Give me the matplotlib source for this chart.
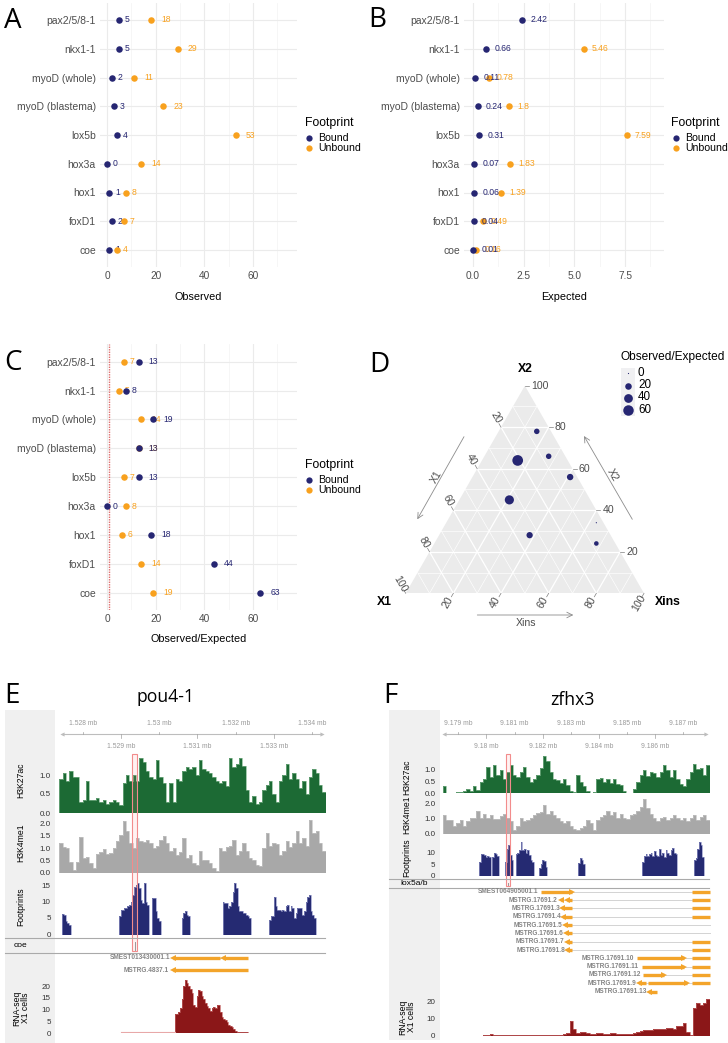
import numpy as np
import matplotlib
matplotlib.use('Agg')
import matplotlib.pyplot as plt
from matplotlib.patches import Rectangle, Polygon
from matplotlib.transforms import blended_transform_factory

# ---------------- data: panels A-C ----------------
genes = ['pax2/5/8-1', 'nkx1-1', 'myoD (whole)', 'myoD (blastema)', 'lox5b',
         'hox3a', 'hox1', 'foxD1', 'coe']
observed_bound = [5, 5, 2, 3, 4, 0, 1, 2, 1]
observed_unbound = [18, 29, 11, 23, 53, 14, 8, 7, 4]
expected_bound = [2.42, 0.66, 0.11, 0.24, 0.31, 0.07, 0.06, 0.04, 0.01]
expected_unbound = [np.nan, 5.46, 0.78, 1.8, 7.59, 1.83, 1.39, 0.49, 0.16]
ratio_bound = [13, 8, 19, 13, 13, 0, 18, 44, 63]
ratio_unbound = [7, 5, 14, 13, 7, 8, 6, 14, 19]

# ---------------- data: panel D (ternary) ----------------
tern_genes = ['pax2/5/8-1', 'lox5b', 'coe', 'myoD (whole)', 'foxD1', 'hox1', 'hox3a', 'nkx1-1']
tern_X1 = [6, 7, 21, 3, 34, 34, 3, 8]
tern_X2 = [78, 66, 64, 56, 45, 28, 34, 24]
tern_Xins = [16, 27, 15, 41, 21, 38, 63, 68]
tern_ratio = [13, 13, 63, 19, 44, 18, 0, 8]
tern_legend = [0, 20, 40, 60]

# ---------------- data: panel E (pou4-1) ----------------
E_start, E_end = 1527389, 1534350
E_bin = 87.0
E_h3k27ac = [0.9, 1.05, 0.85, 1.1, 0.95, 0.95, 0.3, 0.35, 0.85, 0.35,
             0.35, 0.4, 0.3, 0.35, 0.25, 0.3, 0.35, 0.3, 0.2, 0.8,
             1.0, 0.85, 1.0, 0.85, 1.45, 1.35, 1.1, 0.95, 0.9, 1.4,
             0.95, 0.8, 0.3, 0.8, 0.3, 0.9, 0.85, 1.1, 1.2, 1.15,
             1.2, 1.0, 1.4, 1.15, 1.1, 1.05, 0.95, 0.85, 0.8, 0.85,
             0.7, 1.45, 1.2, 1.3, 1.45, 1.25, 0.6, 0.3, 0.45, 0.25,
             0.3, 0.6, 0.75, 0.85, 0.5, 0.3, 0.85, 1.0, 1.3, 0.9,
             1.05, 0.9, 0.65, 0.85, 0.5, 0.95, 1.15, 1.05, 0.75, 0.55]
E_h3k4me1 = [1.2, 1.05, 1.0, 0.45, 0.1, 0.45, 1.45, 0.6, 0.65, 0.4,
             0.2, 0.75, 0.85, 0.95, 0.75, 0.8, 1.0, 1.3, 1.55, 2.1,
             1.7, 1.2, 1.0, 1.4, 1.3, 1.25, 1.35, 1.2, 1.0, 1.1,
             1.35, 1.5, 1.2, 0.9, 1.0, 0.7, 0.85, 1.4, 0.6, 0.7,
             0.4, 0.3, 0.9, 0.5, 0.5, 0.4, 0.2, 0.05, 1.0, 0.9,
             1.05, 1.1, 1.35, 0.7, 0.9, 1.2, 0.9, 0.6, 0.5, 0.3,
             0.25, 1.0, 1.6, 1.1, 1.2, 1.15, 0.7, 0.9, 1.3, 1.05,
             1.2, 1.7, 1.2, 1.4, 1.1, 2.15, 1.6, 1.7, 1.2, 0.9]
E_fp_bin = 43.5
E_fp_starts = [1527469, 1528949, 1529820, 1530587, 1531658, 1532869]
E_fp_blocks = [
    [6.3, 6.0, 4.0, 3.5, 3.0],
    [5.5, 7.5, 7.5, 8.0, 8.0, 8.5, 9.0, 10.0, 12.0, 14.5, 15.0, 15.5, 14.0, 10.5, 9.5, 15.5, 10.0, 9.0],
    [11.0, 11.0, 7.0, 5.0, 4.0],
    [5.0, 6.5, 7.0, 6.0, 5.5],
    [10.0, 9.5, 9.5, 8.0, 8.5, 10.0, 13.0, 15.5, 14.0, 8.5, 7.0, 7.0, 6.5, 6.5, 6.0, 5.5, 5.0],
    [4.5, 5.5, 5.5, 11.5, 8.5, 7.5, 7.5, 7.0, 7.5, 7.0, 8.5, 9.0, 7.0, 8.5, 8.0, 5.0, 6.5, 8.0,
     8.0, 8.0, 6.0, 7.0, 10.0, 11.5, 12.0, 7.0, 6.0, 5.0],
]
E_rna_start, E_rna_bin = 1530413, 43.5
E_rna = [8, 8, 9, 10.5, 14.5, 20, 22.5, 21.5, 20, 19,
         17, 12, 11, 16, 18.5, 18, 16, 14.5, 13, 11.5,
         10.5, 9.5, 10.5, 11, 10.5, 12, 12, 9, 7, 6,
         5.5, 4.5, 3.5, 3, 2.5, 1.5, 0.8, 0.6, 0.6, 0.5,
         0.5, 0.5, 0.4, 0.4]
E_rna_faint = (1528993, 1530413, 0.3)
E_motif = ('coe', 1529359)
E_highlight = (1529298, 1529411)
E_top_ticks = [1528000, 1530000, 1532000, 1534000]
E_top_labels = ['1.528 mb', '1.53 mb', '1.532 mb', '1.534 mb']
E_bot_ticks = [1529000, 1531000, 1533000]
E_bot_labels = ['1.529 mb', '1.531 mb', '1.533 mb']
E_genes = [
    ('SMEST013430001.1', 1530282, [(1530369, 1531589, -1), (1531658, 1532329, -1)], [(1531589, 1531658)]),
    ('MSTRG.4837.1', 1530238, [(1530369, 1532329, -1)], []),
]

# ---------------- data: panel F (zfhx3) ----------------
F_start, F_end = 9178455, 9187931
F_bin = 118.4
F_h3k27ac = [0.3, 0.0, 0.0, 0.0, 0.05, 0.05, 0.1, 0.2, 0.1, 0.3,
             0.15, 0.5, 0.6, 1.15, 0.7, 1.2, 0.8, 1.0, 0.6, 0.9,
             1.2, 0.8, 0.7, 0.9, 1.15, 0.7, 0.5, 0.6, 0.8, 1.1,
             1.6, 1.4, 0.9, 0.6, 0.55, 0.45, 0.6, 0.35, 0.1, 0.05,
             0.8, 0.5, 0.3, 0.1, 0.0, 0.05, 0.6, 0.65, 0.5, 0.6,
             0.45, 0.6, 0.4, 0.35, 0.1, 0.0, 0.0, 0.2, 0.5, 0.8,
             1.0, 0.75, 0.9, 0.85, 0.7, 0.9, 1.2, 1.0, 0.7, 1.0,
             0.6, 0.4, 0.3, 0.6, 0.9, 1.25, 1.05, 1.1, 0.8, 1.2]
F_h3k4me1 = [1.2, 0.9, 0.9, 0.5, 0.7, 0.9, 0.5, 0.8, 1.0, 1.0,
             1.5, 1.0, 1.3, 1.05, 1.2, 0.95, 0.95, 1.15, 1.3, 1.0,
             0.8, 0.25, 0.5, 1.05, 0.8, 0.9, 1.0, 1.2, 1.35, 1.4,
             1.9, 1.3, 1.5, 1.2, 1.0, 0.8, 0.7, 0.85, 0.5, 0.3,
             0.2, 0.35, 0.5, 0.9, 0.7, 0.25, 0.9, 1.1, 1.25, 1.5,
             1.2, 1.4, 1.0, 1.3, 1.0, 0.95, 1.2, 1.3, 1.5, 1.75,
             2.3, 1.7, 1.3, 1.0, 0.85, 1.0, 1.1, 0.9, 1.0, 1.2,
             1.0, 0.9, 1.05, 0.85, 1.0, 1.2, 0.9, 1.1, 1.2, 0.9]
F_fp_bin = 59.2
F_fp_starts = [9179734, 9180208, 9180658, 9181036, 9181865, 9183262, 9185536, 9187371]
F_fp_blocks = [
    [6.0, 9.5, 9.5, 9.0, 8.0, 8.5, 8.0],
    [8.0, 10.0, 9.5, 8.5],
    [6.0, 11.5, 13.4, 9.0, 7.0],
    [9.5, 10.0, 11.0, 14.5, 11.0, 11.5, 10.0, 11.0, 9.0, 7.0, 6.0],
    [3.5, 5.0, 7.0, 6.5, 4.0],
    [5.5, 7.5, 7.0, 5.0],
    [6.0, 8.5, 9.5, 8.5, 9.5, 10.0, 8.5, 10.5, 9.0, 8.5, 11.5, 9.0, 10.0, 8.0, 11.0, 10.0, 9.0,
     11.0, 12.0, 10.0, 9.5],
    [7.0, 7.5, 11.5, 14.5, 13.0, 8.0],
]
F_rna_start, F_rna_bin = 9179876, 118.4
F_rna = [0.3, 0.3, 0.8, 0.3, 0.2, 0.2, 0.3, 0.2, 0.2, 0.2,
         0.3, 0.2, 0.2, 0.2, 0.3, 0.2, 0.2, 0.3, 0.2, 0.2,
         0.2, 0.3, 0.2, 0.3, 0.8, 1.5, 8.5, 4.0, 1.5, 2.0,
         1.8, 1.2, 1.0, 1.0, 1.3, 1.2, 1.0, 1.0, 1.2, 1.3,
         1.0, 1.1, 0.9, 0.8, 0.9, 1.5, 2.0, 2.5, 3.0, 3.0,
         3.2, 3.5, 3.8, 3.5, 4.0, 4.5, 4.5, 4.0, 5.5, 5.5,
         7.0, 2.0, 0.5, 16.0, 19.0, 18.0, 19.0, 21.0]
F_motif = ('lox5a/b', 9180770)
F_highlight = (9180681, 9180835)
F_top_ticks = [9179000, 9181000, 9183000, 9185000, 9187000]
F_top_labels = ['9.179 mb', '9.181 mb', '9.183 mb', '9.185 mb', '9.187 mb']
F_bot_ticks = [9180000, 9182000, 9184000, 9186000]
F_bot_labels = ['9.18 mb', '9.182 mb', '9.184 mb', '9.186 mb']
F_genes = [
    ('SMEST064905001.1', 9181830, [(9181925, 9183049, 1), (9187312, 9187931, 0)], [(9183049, 9187312)]),
    ('MSTRG.17691.2', 9182516, [(9182635, 9182700, -1), (9182848, 9183049, -1), (9187312, 9187931, 0)],
     [(9182700, 9182848), (9183049, 9187312)]),
    ('MSTRG.17691.3', 9182611, [(9182694, 9183049, -1), (9187312, 9187931, 0)], [(9183049, 9187312)]),
    ('MSTRG.17691.4', 9182659, [(9182730, 9183049, -1), (9187312, 9187931, 0)], [(9183049, 9187312)]),
    ('MSTRG.17691.5', 9182694, [(9182789, 9183049, -1)], [(9183049, 9187931)]),
    ('MSTRG.17691.6', 9182730, [(9182812, 9183049, -1)], [(9183049, 9187931)]),
    ('MSTRG.17691.7', 9182753, [(9182848, 9183049, -1), (9187312, 9187931, 0)], [(9183049, 9187312)]),
    ('MSTRG.17691.8', 9182789, [(9182872, 9183049, -1), (9187312, 9187931, 0)], [(9183049, 9187312)]),
    ('MSTRG.17691.10', 9185240, [(9185334, 9187016, 1), (9187312, 9187931, 0)], [(9187016, 9187312)]),
    ('MSTRG.17691.11', 9185417, [(9185512, 9187016, 1), (9187312, 9187931, 0)], [(9187016, 9187312)]),
    ('MSTRG.17691.12', 9185476, [(9185571, 9186305, 1), (9187312, 9187931, 0)], [(9186305, 9187312)]),
    ('MSTRG.17691.9', 9185334, [(9185417, 9185654, -1), (9185749, 9187134, 1), (9187312, 9187931, 0)],
     [(9185654, 9185749), (9187134, 9187312)]),
    ('MSTRG.17691.13', 9185690, [(9185772, 9186045, -1)], []),
]

# ---------------- styling ----------------
W, H = 728, 1043
NAVY = '#262672'
ORANGE = '#F8A11E'
GREEN = '#1C6A34'
GREY_T = '#A8A8A8'
FP_COL = '#252A72'
RNA_COL = '#8B1718'
GENE_COL = '#F3A42A'
TXT = '#4D4D4D'
plt.rcParams['font.family'] = ['Liberation Sans', 'DejaVu Sans']

fig = plt.figure(figsize=(W / 100, H / 100), dpi=100)


def axpx(l, t, w, h, **kw):
    return fig.add_axes([l / W, 1 - (t + h) / H, w / W, h / H], **kw)


ov_bg = axpx(0, 0, W, H, zorder=-5)
ov_bg.set_xlim(0, W); ov_bg.set_ylim(H, 0); ov_bg.axis('off')
ov = axpx(0, 0, W, H, zorder=20)
ov.set_xlim(0, W); ov.set_ylim(H, 0); ov.axis('off')

# panel letters
for letter, x, y in [('A', 4, 28), ('B', 368, 27), ('C', 4, 370), ('D', 369, 371.5),
                     ('E', 4, 703), ('F', 383, 703)]:
    ov.text(x, y, letter, fontsize=20, family=['Open Sans', 'DejaVu Sans'], ha='left', va='baseline')


# ---------------- dot plots ----------------
def dotplot(left, top, width, height, bound, unbound, xlim, majors, minors, ticklabels,
            label_mode, bound_first, vline=None):
    ax = axpx(left, top, width, height)
    ax.set_facecolor('none')
    n = len(genes)
    y = np.arange(n)
    ax.set_xlim(*xlim)
    ax.set_ylim(n - 1 + 0.6, -0.6)
    for s in ax.spines.values():
        s.set_visible(False)
    ax.set_xticks(majors)
    ax.set_xticklabels(ticklabels)
    ax.set_xticks(minors, minor=True)
    ax.set_yticks(y)
    ax.set_yticklabels(genes)
    ax.tick_params(which='both', length=0, colors=TXT, pad=3)
    ax.tick_params(axis='y', labelsize=7.5)
    ax.tick_params(axis='x', labelsize=7.3)
    ax.grid(True, which='major', color='#EBEBEB', lw=0.8)
    ax.grid(True, which='minor', axis='x', color='#F3F3F3', lw=0.5)
    ax.set_axisbelow(True)
    if vline is not None:
        ax.axvline(vline, color='#E07070', lw=1.0, ls=(0, (1, 0.8)), zorder=1)
    groups = [(bound, NAVY), (unbound, ORANGE)]
    if not bound_first:
        groups = groups[::-1]
    z = 3
    for vals, col in groups:
        vals = np.asarray(vals, float)
        m = ~np.isnan(vals)
        ax.scatter(vals[m], y[m], s=22, color=col, zorder=z, linewidths=0)
        for v, yy in zip(vals[m], y[m]):
            txt = f'{v:g}'
            off = (1 + 4.6 * len(txt)) * 0.72 if label_mode == 'width' else 8 * 0.72
            ax.annotate(txt, (v, yy), xytext=(off, 0), textcoords='offset points',
                        ha='left', va='center', fontsize=6.2, color=col, zorder=z + 1)
        z += 2
    return ax


dotplot(100, 2.75, 197, 264.5, observed_bound, observed_unbound, (-2.88, 78.1),
        [0, 20, 40, 60], [10, 30, 50, 70], ['0', '20', '40', '60'], 'width', True)
dotplot(464, 2.75, 200, 264.5, expected_bound, expected_unbound, (-0.444, 9.42),
        [0, 2.5, 5.0, 7.5], [1.25, 3.75, 6.25, 8.75], ['0.0', '2.5', '5.0', '7.5'], 'const', False)
dotplot(100, 344.4, 197, 265.6, ratio_bound, ratio_unbound, (-2.88, 78.1),
        [0, 20, 40, 60], [10, 30, 50, 70], ['0', '20', '40', '60'], 'width', False, vline=1)

ov.text(198.5, 297, 'Observed', fontsize=7.8, ha='center', va='center')
ov.text(564, 297, 'Expected', fontsize=7.8, ha='center', va='center')
ov.text(198.5, 639, 'Observed/Expected', fontsize=7.8, ha='center', va='center')


def fp_legend(xt, yt, xd, xtx, yb, yu):
    ov.text(xt, yt, 'Footprint', fontsize=8.8, ha='left', va='center')
    ov.plot([xd], [yb], 'o', ms=4.5, color=NAVY, mew=0)
    ov.plot([xd], [yu], 'o', ms=4.5, color=ORANGE, mew=0)
    ov.text(xtx, yb, 'Bound', fontsize=7.6, ha='left', va='center')
    ov.text(xtx, yu, 'Unbound', fontsize=7.6, ha='left', va='center')


fp_legend(305, 123.3, 309, 318.5, 137.7, 147.7)
fp_legend(671, 123.3, 675.5, 685, 137.7, 147.7)
fp_legend(305, 465, 309, 318.5, 480, 490)

# ---------------- ternary plot ----------------
TH = np.sqrt(3) / 2
TL, TT, TW, THp = 405.7, 385.7, 238.3, 207.6
axD = axpx(TL, TT, TW, THp)
axD.set_xlim(0, 1); axD.set_ylim(0, TH); axD.axis('off')
PX = 1 / TW


def tern(x1, x2, xi):
    s = float(x1 + x2 + xi)
    return (xi + x2 / 2) / s, x2 / s * TH


axD.add_patch(Polygon([(0, 0), (1, 0), (0.5, TH)], closed=True, fc='#EBEBEB', ec='none', zorder=0))
for k in range(1, 10):
    v = k * 10
    lw = 0.9 if k % 2 == 0 else 0.45
    for a, b in [(tern(100 - v, v, 0), tern(0, v, 100 - v)),
                 (tern(v, 100 - v, 0), tern(v, 0, 100 - v)),
                 (tern(100 - v, 0, v), tern(0, 100 - v, v))]:
        axD.plot([a[0], b[0]], [a[1], b[1]], color='white', lw=lw, zorder=1)

tick_kw = dict(color='#7F7F7F', lw=0.5, clip_on=False)
lab_kw = dict(fontsize=7.6, color=TXT, clip_on=False, rotation_mode='anchor')
for v in [20, 40, 60, 80, 100]:
    x, y = tern(0, v, 100 - v)
    axD.plot([x, x + 4 * PX], [y, y], **tick_kw)
    axD.text(x + 6 * PX, y, str(v), ha='left', va='center', **lab_kw)
    x, y = tern(v, 100 - v, 0)
    d = np.array([-0.5, TH])
    axD.plot([x, x + 4 * PX * d[0]], [y, y + 4 * PX * d[1]], **tick_kw)
    axD.text(x + 11 * PX * d[0], y + 11 * PX * d[1], str(v), ha='center', va='center',
             rotation=-60, **lab_kw)
    x, y = tern(100 - v, 0, v)
    d = np.array([-0.5, -TH])
    axD.plot([x, x + 4 * PX * d[0]], [y, y + 4 * PX * d[1]], **tick_kw)
    axD.text(x + 11 * PX * d[0], y + 11 * PX * d[1], str(v), ha='center', va='center',
             rotation=60, **lab_kw)

rmax = max(tern_ratio)


def dot_size(v):
    dpx = 1.2 + 9.5 * np.sqrt(v / rmax)
    return (dpx * 0.72) ** 2


pts = [tern(a, b, c) for a, b, c in zip(tern_X1, tern_X2, tern_Xins)]
axD.scatter([p[0] for p in pts], [p[1] for p in pts], s=[dot_size(v) for v in tern_ratio],
            color=NAVY, linewidths=0, zorder=3, clip_on=False)

ov.text(525, 369, 'X2', fontsize=8.8, weight='bold', ha='center', va='center')
ov.text(384, 601.7, 'X1', fontsize=8.8, weight='bold', ha='center', va='center')
ov.text(668, 601.7, 'Xins', fontsize=8.8, weight='bold', ha='center', va='center')
arr = dict(arrowstyle='->', color='#8C8C8C', lw=0.6, shrinkA=0, shrinkB=0)
ov.annotate('', xy=(417.3, 519.3), xytext=(464, 436.7), arrowprops=arr)
ov.annotate('', xy=(584, 436), xytext=(632.3, 519.3), arrowprops=arr)
ov.annotate('', xy=(573.3, 615), xytext=(477.3, 615), arrowprops=arr)
ov.text(436.7, 476.7, 'X1', fontsize=7.6, color=TXT, ha='center', va='center', rotation=60)
ov.text(612.3, 475, 'X2', fontsize=7.6, color=TXT, ha='center', va='center', rotation=-60)
ov.text(525.7, 622.5, 'Xins', fontsize=7.6, color=TXT, ha='center', va='center')

ov.text(620.5, 356.7, 'Observed/Expected', fontsize=8.6, ha='left', va='center')
ov.add_patch(Rectangle((620.7, 367.5), 14, 48.5, fc='#F0F0F2', ec='none'))
for v, yy in zip(tern_legend, [373.3, 385.5, 397.5, 410]):
    ov.scatter([627.7], [yy], s=dot_size(v), color=NAVY, linewidths=0)
    ov.text(638, yy, str(v), fontsize=8.4, ha='left', va='center')


# ---------------- genome browser panels ----------------
def make_track(l, t, w, baseline, ppu, xlim, ticks, labels, pad):
    hh = baseline - t
    ax = axpx(l, t, w, hh)
    ax.set_xlim(*xlim)
    ax.set_ylim(0, hh / ppu)
    ax.set_facecolor('none')
    for s in ax.spines.values():
        s.set_visible(False)
    ax.set_xticks([])
    ax.set_yticks(ticks)
    ax.set_yticklabels(labels)
    ax.tick_params(axis='y', length=0, labelsize=5.8, colors='#333333', pad=pad)
    return ax


def stairs(ax, start, binw, vals, col, edge):
    vals = np.asarray(vals, float)
    edges = start + binw * np.arange(len(vals) + 1)
    ax.stairs(vals, edges, fill=True, color=col, lw=0)
    ax.stairs(vals, edges, fill=False, color=edge, lw=0.5)


def browser(cfg):
    xl = (cfg['start'], cfg['end'])
    L, Wd = cfg['left'], cfg['width']
    pad = cfg['pad']
    a1 = make_track(L, 752, Wd, cfg['k27_base'], cfg['k27_ppu'], xl, cfg['k27_ticks'],
                    [f'{t:.1f}' for t in cfg['k27_ticks']], pad)
    stairs(a1, cfg['start'], cfg['bin'], cfg['k27'], GREEN, '#7DB38B')
    a2 = make_track(L, cfg['k4_top'], Wd, cfg['k4_base'], cfg['k4_ppu'], xl, cfg['k4_ticks'],
                    [f'{t:.1f}' for t in cfg['k4_ticks']], pad)
    stairs(a2, cfg['start'], cfg['bin'], cfg['k4'], GREY_T, '#C4C4C4')
    a3 = make_track(L, cfg['fp_top'], Wd, cfg['fp_base'], cfg['fp_ppu'], xl, cfg['fp_ticks'],
                    [str(t) for t in cfg['fp_ticks']], pad)
    for s0, blk in zip(cfg['fp_starts'], cfg['fp_blocks']):
        stairs(a3, s0, cfg['fp_bin'], blk, FP_COL, '#8E92C4')
    a4 = make_track(L, cfg['rna_top'], Wd, cfg['rna_base'], cfg['rna_ppu'], xl, cfg['rna_ticks'],
                    [str(t) for t in cfg['rna_ticks']], pad)
    stairs(a4, cfg['rna_start'], cfg['rna_bin'], cfg['rna'], RNA_COL, '#C06060')
    if cfg.get('rna_faint'):
        f0, f1, fv = cfg['rna_faint']
        a4.plot([f0, f1], [fv, fv], color='#E8A8A8', lw=0.8)

    tr = blended_transform_factory(a1.transData, ov.transData)
    # grey name column
    gx0, gx1 = cfg['col']
    ov_bg.add_patch(Rectangle((gx0, 709.5), gx1 - gx0, cfg['col_bottom'] - 709.5, fc='#F0F0F0', ec='none'))
    # genome scale
    s0, s1 = cfg['scale']
    ov.plot([s0, s1], [734, 734], color='#BDBDBD', lw=0.8, transform=tr)
    ov.plot([s0], [734], marker='<', ms=3, color='#BDBDBD', mew=0, transform=tr)
    ov.plot([s1], [734], marker='>', ms=3, color='#BDBDBD', mew=0, transform=tr)
    for t, lab in zip(cfg['top_ticks'], cfg['top_labels']):
        ov.plot([t, t], [731.5, 734], color='#A0A0A0', lw=0.5, transform=tr)
        ov.text(t, 723.3, lab, fontsize=4.9, color='#9A9A9A', ha='center', va='center', transform=tr)
    for t, lab in zip(cfg['bot_ticks'], cfg['bot_labels']):
        ov.plot([t, t], [734, 738], color='#A0A0A0', lw=0.5, transform=tr)
        ov.text(t, 747, lab, fontsize=4.9, color='#9A9A9A', ha='center', va='center', transform=tr)
    # motif row
    m0, m1 = cfg['motif_rows']
    ov.plot([gx0, cfg['sep_right']], [m0, m0], color='#AAAAAA', lw=0.8)
    ov.plot([gx0, cfg['sep_right']], [m1, m1], color='#AAAAAA', lw=0.8)
    name, mpos = cfg['motif']
    ov.text(cfg['name_x'] if name == 'coe' else cfg['name_x'] + 8, (m0 + m1) / 2, name,
            fontsize=6, ha='left' if name == 'coe' else 'center', va='center')
    ov.plot([mpos, mpos], [m0 + 4, m1 - 3], color='#999999', lw=0.7, transform=tr)
    # highlight box
    h0, h1 = cfg['highlight']
    ov.add_patch(Rectangle((h0, 754), h1 - h0, m1 - 2 - 754, transform=tr,
                           fc=(1, 0.6, 0.6, 0.12), ec='#F28C8C', lw=0.8))
    # genes
    for (label, tend, thick, thin), gy in zip(cfg['genes'], cfg['gene_y']):
        for a, b in thin:
            ov.plot([a, b], [gy, gy], color='#D3D3D3', lw=0.7, transform=tr)
        for a, b, d in thick:
            ov.plot([a, b], [gy, gy], color=GENE_COL, lw=2.4, solid_capstyle='butt', transform=tr)
            if d < 0:
                ov.plot([a], [gy], marker='<', ms=4.2, color=GENE_COL, mew=0, transform=tr)
            elif d > 0:
                ov.plot([b], [gy], marker='>', ms=4.2, color=GENE_COL, mew=0, transform=tr)
        ov.text(tend, gy, label, fontsize=4.7, color='#858585', weight='bold', ha='right',
                va='center', transform=tr)
    # track names
    nx = cfg['track_x']
    for lab, yy in cfg['track_names']:
        ov.text(nx, yy, lab, fontsize=6.2, rotation=90, ha='center', va='center',
                multialignment='center', linespacing=1.05)
    ov.text(cfg['title_x'], cfg['title_y'], cfg['title'], fontsize=12.7,
            family=['Open Sans', 'DejaVu Sans'], ha='center', va='baseline')


browser(dict(
    start=E_start, end=E_end, left=59.3, width=266.4, bin=E_bin, pad=6.2,
    k27=E_h3k27ac, k27_base=813, k27_ppu=38.0, k27_ticks=[0.0, 0.5, 1.0],
    k4=E_h3k4me1, k4_top=815, k4_base=872.5, k4_ppu=24.4, k4_ticks=[0.0, 0.5, 1.0, 1.5, 2.0],
    fp_starts=E_fp_starts, fp_blocks=E_fp_blocks, fp_bin=E_fp_bin, fp_top=879, fp_base=934.5,
    fp_ppu=3.3, fp_ticks=[0, 5, 10, 15],
    rna=E_rna, rna_start=E_rna_start, rna_bin=E_rna_bin, rna_faint=E_rna_faint,
    rna_top=975, rna_base=1033, rna_ppu=2.335, rna_ticks=[0, 5, 10, 15, 20],
    col=(5, 55), col_bottom=1043, scale=(1527451, 1534245),
    top_ticks=E_top_ticks, top_labels=E_top_labels, bot_ticks=E_bot_ticks, bot_labels=E_bot_labels,
    motif_rows=(937.7, 953.3), sep_right=325, motif=E_motif, name_x=14,
    highlight=E_highlight, genes=E_genes, gene_y=[957.5, 970],
    track_x=21, track_names=[('H3K27ac', 780), ('H3K4me1', 843), ('Footprints', 907),
                             ('RNA-seq\nX1 cells', 1008)],
    title='pou4-1', title_x=166, title_y=701.7,
))

browser(dict(
    start=F_start, end=F_end, left=443, width=266.7, bin=F_bin, pad=5.4,
    k27=F_h3k27ac, k27_base=793.3, k27_ppu=23.3, k27_ticks=[0.0, 0.5, 1.0],
    k4=F_h3k4me1, k4_top=796, k4_base=833.5, k4_ppu=15.1, k4_ticks=[0.0, 1.0, 2.0],
    fp_starts=F_fp_starts, fp_blocks=F_fp_blocks, fp_bin=F_fp_bin, fp_top=837, fp_base=876,
    fp_ppu=2.35, fp_ticks=[0, 5, 10],
    rna=F_rna, rna_start=F_rna_start, rna_bin=F_rna_bin, rna_faint=None,
    rna_top=996, rna_base=1035.5, rna_ppu=1.72, rna_ticks=[0, 10, 20],
    col=(389, 440), col_bottom=1040, scale=(9178492, 9187789),
    top_ticks=F_top_ticks, top_labels=F_top_labels, bot_ticks=F_bot_ticks, bot_labels=F_bot_labels,
    motif_rows=(878.7, 887.7), sep_right=709, motif=F_motif, name_x=406,
    highlight=F_highlight, genes=F_genes,
    gene_y=[891.7 + 8.33 * i for i in range(13)],
    track_x=407, track_names=[('H3K27ac', 777), ('H3K4me1', 815), ('Footprints', 858),
                              ('RNA-seq\nX1 cells', 1017)],
    title='zfhx3', title_x=572, title_y=705,
))

fig.savefig('out.png', dpi=100, facecolor='white')
